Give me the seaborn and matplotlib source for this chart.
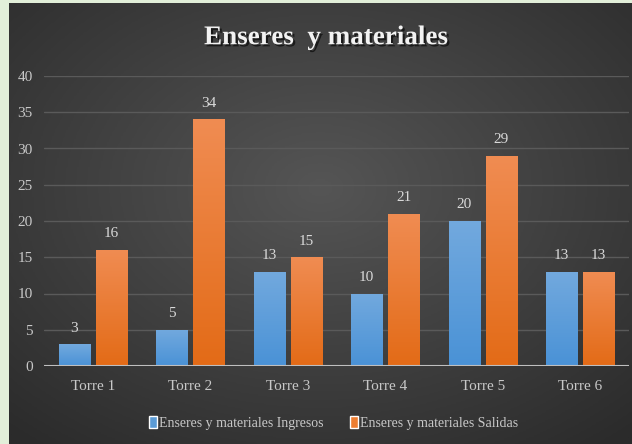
import numpy as np
import pandas as pd
import matplotlib
matplotlib.use("Agg")
import matplotlib.pyplot as plt
import matplotlib.patheffects as pe
import seaborn as sns
from matplotlib.colors import LinearSegmentedColormap
from matplotlib.patches import Patch

# Data
torres = ['Torre 1', 'Torre 2', 'Torre 3', 'Torre 4', 'Torre 5', 'Torre 6']
ingresos = [3, 5, 13, 10, 20, 13]
salidas = [16, 34, 15, 21, 29, 13]
serie_ing = 'Enseres y materiales Ingresos'
serie_sal = 'Enseres y materiales Salidas'

df = pd.DataFrame({
    'torre': torres * 2,
    'valor': ingresos + salidas,
    'serie': [serie_ing] * len(torres) + [serie_sal] * len(torres),
})

sns.set_theme(style='dark')
plt.rcParams['font.family'] = ['Liberation Serif', 'DejaVu Serif']

fig = plt.figure(figsize=(6.32, 4.44), dpi=100)
fig.patch.set_facecolor('#e2efd9')

# radial gradient background
bg = fig.add_axes([9 / 632, 0, 623 / 632, 441 / 444])
bg.set_axis_off()
yy, xx = np.mgrid[0:1:300j, 0:1:400j]
r = np.sqrt(((xx - 0.5) / 0.75) ** 2 + ((yy - 0.42) / 0.75) ** 2)
r = np.clip(r, 0, 1)
bg_cmap = LinearSegmentedColormap.from_list('bg', ['#555555', '#2b2b2b'])
bg.imshow(r, cmap=bg_cmap, aspect='auto', extent=[0, 1, 0, 1], origin='upper', vmin=0, vmax=1)
bg.set_xlim(0, 1)
bg.set_ylim(0, 1)

ax = fig.add_axes([44 / 632, 78 / 444, 585 / 632, 290 / 444])
ax.patch.set_alpha(0)

palette = {serie_ing: '#5b9bd5', serie_sal: '#ed7d31'}
sns.barplot(data=df, x='torre', y='valor', hue='serie', palette=palette,
            width=0.76, gap=0.16, ax=ax, legend=False, saturation=1)

ax.set_xlabel('')
ax.set_ylabel('')
ax.grid(False)
for y in range(5, 41, 5):
    ax.axhline(y, color='#5a5a5a', lw=1, zorder=0)
ax.axhline(0, color='#bfbfbf', lw=1.5, zorder=3)
for s in ax.spines.values():
    s.set_visible(False)
ax.tick_params(axis='both', length=0, colors='#c8c8c8', labelsize=11)
ax.tick_params(axis='x', pad=10)
ax.tick_params(axis='y', pad=8)

# gradients on bars
grads = [
    LinearSegmentedColormap.from_list('b', ['#4a92d6', '#72a9de']),
    LinearSegmentedColormap.from_list('o', ['#e36b17', '#f08c52']),
]
grad = np.linspace(0, 1, 100).reshape(-1, 1)
for cont, cm in zip(ax.containers, grads):
    for p in cont.patches:
        x0, y0 = p.get_x(), p.get_y()
        w, h = p.get_width(), p.get_height()
        im = ax.imshow(grad, cmap=cm, aspect='auto', origin='lower',
                       extent=[x0, x0 + w, y0, y0 + h], zorder=2)
        im.set_clip_path(p)
        p.set_edgecolor('none')
    ax.bar_label(cont, padding=7, color='#d9d9d9', fontsize=11)

ax.set_xlim(-0.5, 5.5)
ax.set_ylim(0, 40)
ax.set_yticks(range(0, 41, 5))

fig.text(0.516, 0.915, 'Enseres  y materiales', ha='center', va='center',
         fontsize=19.5, fontweight='bold', color='#f2f2f2',
         path_effects=[pe.withSimplePatchShadow(offset=(1.5, -1.5),
                                                shadow_rgbFace='black', alpha=0.6)])

handles = [Patch(facecolor='#5b9bd5', label=serie_ing),
           Patch(facecolor='#ed7d31', label=serie_sal)]
leg = fig.legend(handles=handles, loc='center', bbox_to_anchor=(0.528, 0.047),
                 ncol=2, frameon=False, fontsize=10, handlelength=0.55,
                 handleheight=0.9, handletextpad=0.15, columnspacing=1.9)
for t in leg.get_texts():
    t.set_color('#c8c8c8')

fig.savefig('out.png', dpi=100, facecolor=fig.get_facecolor())
